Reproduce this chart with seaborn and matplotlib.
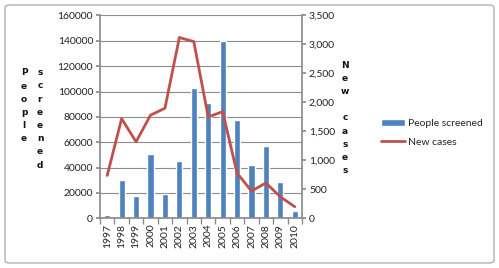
import numpy as np
import pandas as pd
import matplotlib.pyplot as plt
import seaborn as sns
from matplotlib.patches import FancyBboxPatch

years = ['1997', '1998', '1999', '2000', '2001', '2002', '2003',
         '2004', '2005', '2006', '2007', '2008', '2009', '2010']
people_screened = [2500, 30500, 17500, 51000, 19000, 45000, 103000,
                   91000, 140000, 77500, 42000, 57000, 28500, 5500]
new_cases = [740, 1720, 1320, 1780, 1900, 3120, 3050,
             1750, 1840, 780, 470, 610, 370, 200]

df = pd.DataFrame({'year': years, 'screened': people_screened, 'cases': new_cases})
df['pos'] = np.arange(len(years))

sns.set_theme(style="white")
plt.rcParams['font.family'] = ['Lato', 'DejaVu Sans']

bar_color = '#4F81BD'
line_color = '#C0504D'
grid_color = '#8c8c8c'

fig = plt.figure(figsize=(4.99, 2.68), dpi=100, facecolor='white')
ax = fig.add_axes([100 / 499, 1 - 218.3 / 268, 202 / 499, 202.8 / 268])

# barras
sns.barplot(data=df, x='year', y='screened', color=bar_color, width=0.42,
            saturation=1, ax=ax, label='People screened', zorder=2)
if ax.get_legend() is not None:
    ax.get_legend().remove()
ax.set_ylim(0, 160000)
ax.set_yticks(np.arange(0, 160001, 20000))
ax.set_yticklabels([f'{v}' for v in range(0, 160001, 20000)], fontsize=7.5, color='#222222')
ax.set_xlim(-0.5, len(years) - 0.5)
ax.set_xticks(df['pos'])
ax.set_xticklabels(years, rotation=90, fontsize=7.5, color='#222222')
ax.tick_params(axis='x', length=0, pad=4)
ax.tick_params(axis='y', length=3, color=grid_color, pad=2, left=True)
ax.yaxis.grid(True, color=grid_color, linewidth=0.8, zorder=0)
ax.set_axisbelow(True)
ax.set_xlabel('')
ax.set_ylabel('')
for s in ['top', 'right']:
    ax.spines[s].set_visible(False)
ax.spines['left'].set_color(grid_color)
ax.spines['bottom'].set_color(grid_color)

# separadores de categorias en el eje x
ax.set_xticks(np.arange(-0.5, len(years), 1), minor=True)
ax.tick_params(axis='x', which='minor', length=4, color=grid_color, bottom=True)

# linea en eje derecho
ax2 = ax.twinx()
sns.lineplot(data=df, x='pos', y='cases', color=line_color, linewidth=2,
             ax=ax2, label='New cases', legend=False)
ax2.set_ylim(0, 3500)
ax2.set_yticks(np.arange(0, 3501, 500))
ax2.set_yticklabels([f'{v:,}' for v in range(0, 3501, 500)], fontsize=7.5, color='#222222')
ax2.tick_params(axis='y', length=3, color=grid_color, pad=2, right=True)
ax2.set_ylabel('')
ax2.set_xlabel('')
for s in ['top', 'left', 'bottom']:
    ax2.spines[s].set_visible(False)
ax2.spines['right'].set_color(grid_color)
ax.set_xlim(-0.5, len(years) - 0.5)
ax2.set_xlim(-0.5, len(years) - 0.5)
ax2.grid(False)

# etiquetas verticales con letras apiladas
lab_kw = dict(ha='center', va='center', fontsize=6.5, fontweight='bold',
              family='DejaVu Sans', linespacing=1.6, color='#111111')
fig.text(24 / 499, 1 - 106 / 268, '\n'.join('People'), **lab_kw)
fig.text(40 / 499, 1 - 119 / 268, '\n'.join('screened'), **lab_kw)
fig.text(345 / 499, 1 - 118 / 268, '\n'.join('New cases'), **lab_kw)

# leyenda
h1, l1 = ax.get_legend_handles_labels()
h2, l2 = ax2.get_legend_handles_labels()
fig.legend(h1 + h2, l1 + l2, loc='center left', bbox_to_anchor=(372 / 499, 1 - 133 / 268),
           frameon=False, fontsize=7.5, handlelength=2.3, handleheight=0.6,
           handletextpad=0.3, labelspacing=0.9)

# borde de la figura
border = FancyBboxPatch((5 / 499, 5 / 268), 489 / 499, 258 / 268,
                        boxstyle='round,pad=0,rounding_size=0.01', transform=fig.transFigure,
                        facecolor='none', edgecolor='#b0b0b0', linewidth=1)
fig.patches.append(border)

fig.savefig('out.png', dpi=100, facecolor='white')
plt.close()
